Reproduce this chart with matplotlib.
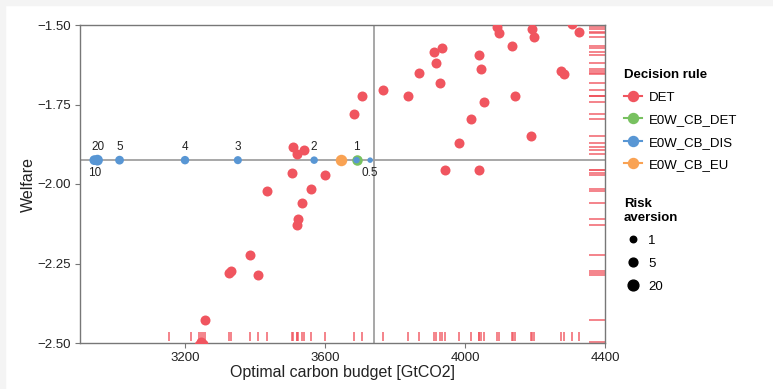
import numpy as np
import matplotlib.pyplot as plt
from matplotlib.lines import Line2D
from matplotlib.patches import Rectangle
from matplotlib.ticker import FuncFormatter

plt.rcParams['font.family'] = ['Liberation Sans', 'DejaVu Sans']

# DET rule: one point per scenario (a few fall outside the visible window)
det_budget = [4092, 4098, 4190, 4198, 4307, 4327, 4135, 3910, 3933, 3916,
              4041, 4046, 3869, 3929, 4274, 4282, 3765, 3837, 4054, 4142,
              4016, 4189, 3983, 3944, 4041, 3683, 3705, 3508, 3521, 3540,
              3507, 3601, 3435, 3559, 3533, 3524, 3520, 3386, 3330, 3325,
              3408, 3257, 3245, 3251, 3241, 3154, 3217, 4138]
det_welfare = [-1.505, -1.526, -1.514, -1.537, -1.497, -1.521, -1.565, -1.584, -1.571, -1.618,
               -1.593, -1.638, -1.650, -1.683, -1.644, -1.655, -1.705, -1.722, -1.741, -1.722,
               -1.797, -1.848, -1.870, -1.955, -1.955, -1.779, -1.722, -1.885, -1.906, -1.893,
               -1.966, -1.971, -2.021, -2.015, -2.061, -2.111, -2.128, -2.224, -2.275, -2.281,
               -2.286, -2.427, -2.497, -2.502, -2.505, -2.70, -2.60, -1.45]

# E0W_CB_DIS for several risk aversion levels
dis_risk = [0.5, 1, 2, 3, 4, 5, 10, 20]
dis_budget = [3729, 3690, 3569, 3351, 3200, 3013, 2941, 2950]
dis_welfare = [-1.925, -1.925, -1.925, -1.925, -1.925, -1.925, -1.925, -1.925]

cbdet_budget = [3690]
cbdet_welfare = [-1.925]
eu_budget = [3645]
eu_welfare = [-1.925]

ref_budget = 3740
ref_welfare = -1.925

rules = ['DET', 'E0W_CB_DET', 'E0W_CB_DIS', 'E0W_CB_EU']
colors = {'DET': '#F0555F', 'E0W_CB_DET': '#78C160', 'E0W_CB_DIS': '#5896D4',
          'E0W_CB_EU': '#F9A253'}
size_breaks = [1, 5, 20]


def ra_px(r):
    return 6.5 + 3.3 * np.log10(r)


def s_of(px):
    return (px * 0.72) ** 2


fig = plt.figure(figsize=(7.73, 3.89), dpi=100)
fig.patches.append(Rectangle((0, 1 - 5 / 389), 1, 5 / 389, transform=fig.transFigure,
                             color='#f4f4f4', zorder=-10))
fig.patches.append(Rectangle((0, 0), 5 / 773, 1, transform=fig.transFigure,
                             color='#f4f4f4', zorder=-10))
ax = fig.add_axes([80 / 773, 46 / 389, 525 / 773, 318 / 389])

ax.axvline(ref_budget, color='#a0a0a0', lw=1.3, zorder=1)
ax.axhline(ref_welfare, color='#a0a0a0', lw=1.3, zorder=1)

# rugs for DET
ax.vlines(det_budget, 0.006, 0.036, transform=ax.get_xaxis_transform(),
          color=colors['DET'], lw=1.2, alpha=0.85, zorder=2)
ax.hlines(det_welfare, 0.97, 1.0, transform=ax.get_yaxis_transform(),
          color=colors['DET'], lw=1.2, alpha=0.85, zorder=2)

ax.scatter(det_budget, det_welfare, s=s_of(10), color=colors['DET'], lw=0, zorder=3)
ax.scatter(eu_budget, eu_welfare, s=s_of(11.5), color=colors['E0W_CB_EU'], lw=0, zorder=3)
ax.scatter(cbdet_budget, cbdet_welfare, s=s_of(10.5), color=colors['E0W_CB_DET'], lw=0, zorder=3)
ax.scatter(dis_budget, dis_welfare, s=[s_of(ra_px(r)) for r in dis_risk],
           color=colors['E0W_CB_DIS'], lw=0, zorder=4)

for r, xb, yw in zip(dis_risk, dis_budget, dis_welfare):
    below = r in (10, 0.5)
    ax.annotate(f'{r:g}', (xb, yw), xytext=(0, -9 if below else 9.5),
                textcoords='offset points', ha='center', va='center',
                fontsize=8.5, color='#222222', zorder=5)

ax.set_xlim(2900, 4400)
ax.set_ylim(-2.5, -1.5)
ax.set_xticks([3200, 3600, 4000, 4400])
ax.set_yticks([-2.5, -2.25, -2.0, -1.75, -1.5])
ax.yaxis.set_major_formatter(FuncFormatter(lambda v, p: f'{v:.2f}'.replace('-', '\u2212')))
ax.tick_params(colors='#777777', labelcolor='#222222', labelsize=9.5, length=3.5, pad=3)
for sp in ax.spines.values():
    sp.set_color('#777777')
    sp.set_linewidth(1)

ax.set_xlabel('Optimal carbon budget [GtCO2]', fontsize=11.5, color='#222222', labelpad=1)
ax.set_ylabel('Welfare', fontsize=11.5, color='#222222', labelpad=1)

rule_handles = [Line2D([0], [0], color=colors[r], marker='o', markersize=7.2, lw=1.5)
                for r in rules]
leg1 = fig.legend(rule_handles, rules, loc='upper left', bbox_to_anchor=(624 / 773, 1 - 69 / 389),
                  frameon=False, fontsize=9.5, title='Decision rule', alignment='left',
                  title_fontproperties={'weight': 'bold', 'size': 9.5},
                  handlelength=1.4, handletextpad=0.45, labelspacing=0.78,
                  borderpad=0, borderaxespad=0)

size_handles = [Line2D([0], [0], ls='', marker='o', color='black',
                       markersize=ra_px(b) * 0.72) for b in size_breaks]
leg2 = fig.legend(size_handles, [str(b) for b in size_breaks], loc='upper left',
                  bbox_to_anchor=(624 / 773, 1 - 198 / 389),
                  frameon=False, fontsize=9.5, title='Risk\naversion', alignment='left',
                  title_fontproperties={'weight': 'bold', 'size': 9.5},
                  handlelength=1.4, handletextpad=0.45, labelspacing=0.82,
                  borderpad=0, borderaxespad=0)

fig.savefig('out.png', dpi=100)
